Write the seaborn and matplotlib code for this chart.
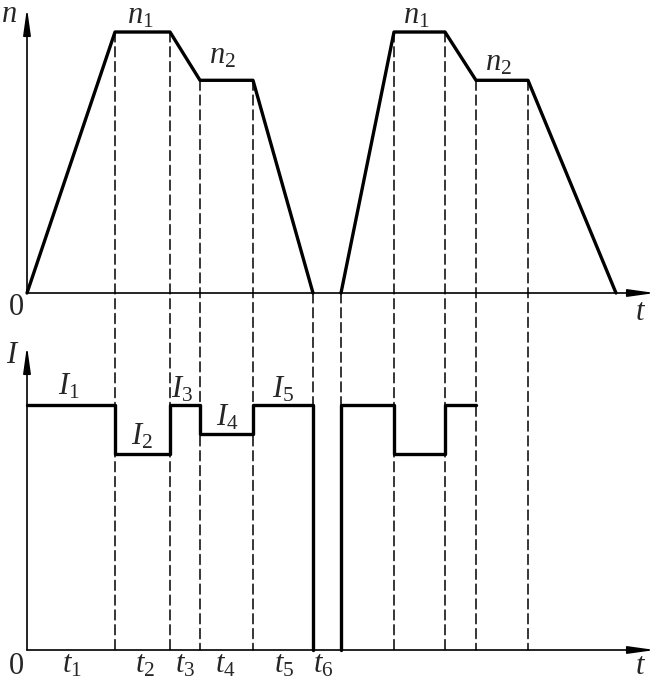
import numpy as np
import pandas as pd
import matplotlib
matplotlib.use('Agg')
import matplotlib.pyplot as plt
from matplotlib.patches import ConnectionPatch
import seaborn as sns

# speed diagram n(t), two working cycles
t_cycle1 = [0, 8.8, 14.3, 17.3, 22.6, 28.6]
t_cycle2 = [31.4, 36.7, 41.8, 44.9, 50.1, 58.9]
n1, n2 = 1000, 815
n_cycle = [0, n1, n1, n2, n2, 0]

# current diagram I(t), step levels
I1, I2, I3, I4, I5 = 1.0, 0.8, 1.0, 0.88, 1.0
I_times1 = [0, 8.8, 14.3, 17.3, 22.6, 28.6]
I_levels1 = [I1, I2, I3, I4, I5, 0]
I_times2 = [31.4, 31.4, 36.7, 41.8, 44.9]
I_levels2 = [0, I1, I2, I3, I3]

# vertical guide lines
guide_t = [8.8, 14.3, 17.3, 22.6, 28.6, 31.4, 36.7, 41.8, 44.9, 50.1]

t_labels = ['$t_1$', '$t_2$', '$t_3$', '$t_4$', '$t_5$', '$t_6$']
t_label_x = [4.5, 11.8, 15.8, 19.8, 25.7, 29.6]

sns.set_theme(style='white')
plt.rcParams['font.family'] = ['Liberation Serif', 'DejaVu Serif']
plt.rcParams['mathtext.fontset'] = 'custom'
plt.rcParams['mathtext.it'] = 'Liberation Serif:italic'
plt.rcParams['mathtext.rm'] = 'Liberation Serif'

W, H = 659, 683
fig = plt.figure(figsize=(W / 100, H / 100), dpi=100)
left, right = 27 / W, 655 / W
ax1 = fig.add_axes([left, (H - 293) / H, right - left, (293 - 8) / H])
ax2 = fig.add_axes([left, 33 / H, right - left, (650 - 346) / H])

xmax = 62.8
ax1.set_xlim(0, xmax)
ax1.set_ylim(0, 1092)
ax2.set_xlim(0, xmax)
ax2.set_ylim(0, 1.241)
for ax in (ax1, ax2):
    ax.axis('off')

lw_curve = 2.4
fs = 22

# speed curves
for tc in (t_cycle1, t_cycle2):
    df = pd.DataFrame({'t': tc, 'n': n_cycle})
    sns.lineplot(data=df, x='t', y='n', ax=ax1, color='black', lw=lw_curve,
                 estimator=None, sort=False, clip_on=False)

# current curves
for tt, ll in ((I_times1, I_levels1), (I_times2, I_levels2)):
    df = pd.DataFrame({'t': tt, 'I': ll})
    sns.lineplot(data=df, x='t', y='I', ax=ax2, color='black', lw=lw_curve,
                 estimator=None, sort=False, drawstyle='steps-post', clip_on=False)

# dashed guides from speed curve down to time axis of current plot
n_all_t = t_cycle1 + t_cycle2
n_all = n_cycle + n_cycle
for tg in guide_t:
    ny = np.interp(tg, n_all_t, n_all)
    con = ConnectionPatch(xyA=(tg, ny), coordsA=ax1.transData,
                          xyB=(tg, 0), coordsB=ax2.transData,
                          color='black', lw=1.1, linestyle=(0, (6.5, 3.2)), zorder=1)
    fig.add_artist(con)

# axes with arrows
arrow = dict(arrowstyle='-|>,head_length=1.0,head_width=0.14', color='black',
             lw=1.2, shrinkA=0, shrinkB=0, mutation_scale=16)
for ax, ytop in ((ax1, 1092), (ax2, 1.241)):
    ax.annotate('', xy=(xmax, 0), xytext=(0, 0), arrowprops=arrow, annotation_clip=False)
    ax.annotate('', xy=(0, ytop), xytext=(0, 0), arrowprops=arrow, annotation_clip=False)

# labels, speed plot
ax1.text(-1.8, 1040, '$n$', fontsize=fs, ha='center', va='baseline')
ax1.text(-1.05, -84, '0', fontsize=fs, ha='center', va='baseline')
ax1.text(61.4, -103, '$t$', fontsize=fs, ha='center', va='baseline')
ax1.text(11.3, 1031, '$n_1$', fontsize=fs, ha='center', va='baseline')
ax1.text(19.5, 881, '$n_2$', fontsize=fs, ha='center', va='baseline')
ax1.text(38.9, 1031, '$n_1$', fontsize=fs, ha='center', va='baseline')
ax1.text(47.1, 854, '$n_2$', fontsize=fs, ha='center', va='baseline')

# labels, current plot
ax2.text(-1.4, 1.171, '$I$', fontsize=fs, ha='center', va='baseline')
ax2.text(4.2, 1.041, '$I_1$', fontsize=fs, ha='center', va='baseline')
ax2.text(11.5, 0.837, '$I_2$', fontsize=fs, ha='center', va='baseline')
ax2.text(15.5, 1.029, '$I_3$', fontsize=fs, ha='center', va='baseline')
ax2.text(20.0, 0.918, '$I_4$', fontsize=fs, ha='center', va='baseline')
ax2.text(25.6, 1.029, '$I_5$', fontsize=fs, ha='center', va='baseline')
ax2.text(-1.05, -0.1, '0', fontsize=fs, ha='center', va='baseline')
ax2.text(61.4, -0.1, '$t$', fontsize=fs, ha='center', va='baseline')
for lab, x in zip(t_labels, t_label_x):
    ax2.text(x, -0.093, lab, fontsize=fs, ha='center', va='baseline')

fig.savefig('out.png', dpi=100, facecolor='white')
